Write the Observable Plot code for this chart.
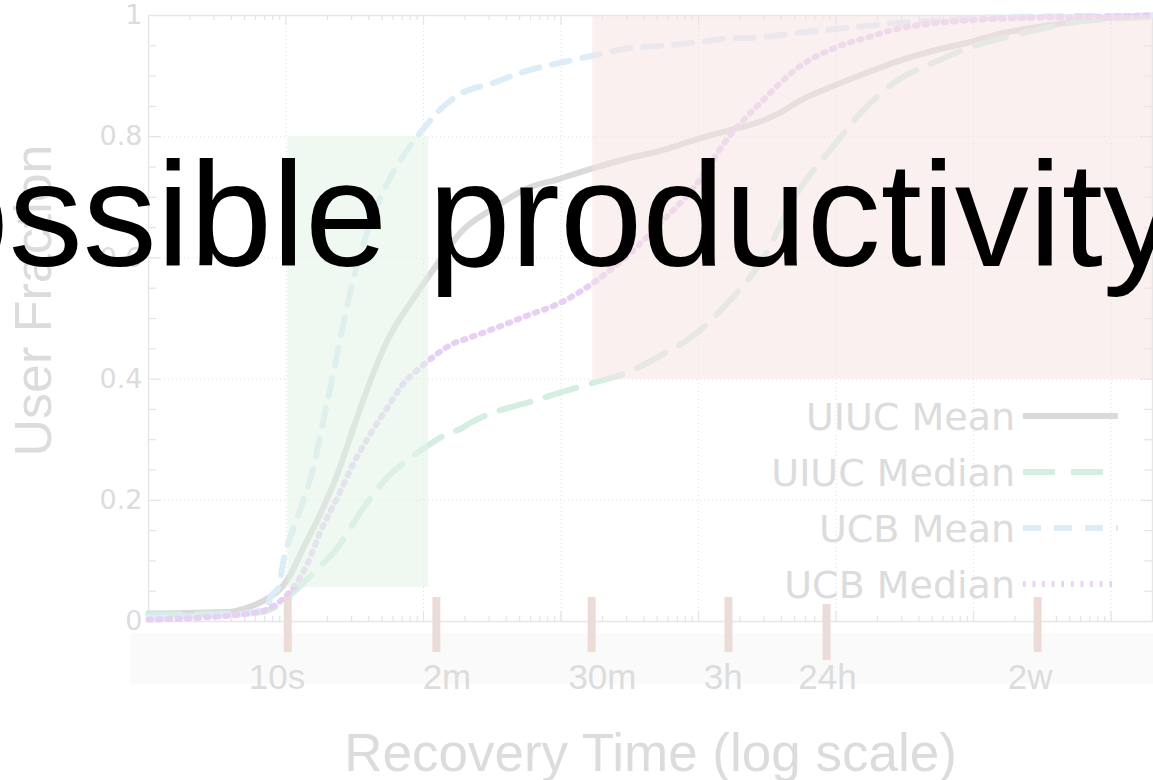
<!DOCTYPE html>
<html>
<head>
<meta charset="utf-8">
<script src="https://cdn.jsdelivr.net/npm/d3@7"></script>
<script src="https://cdn.jsdelivr.net/npm/@observablehq/plot@0.6"></script>
<style>
  html, body { margin: 0; padding: 0; background: #ffffff; }
  #chart svg { display: block; }
</style>
</head>
<body>
<div id="chart"></div>
<script>
// ---------- data ----------
const seriesNames = ["UIUC Mean", "UIUC Median", "UCB Mean", "UCB Median"];

// recovery time in seconds, user fraction (CDF)
const uiucMeanTime = [1, 4.02, 4.74, 6.31, 7.46, 9.27, 10.3, 13.4, 17.8, 23.7, 31.0, 41.2, 54.7, 84.5, 126, 186, 323, 570, 991, 1720, 3050, 5300, 9200, 16300, 28200, 39400, 55200, 95900, 169000, 294000, 512000, 904000, 1570000, 2730000, 4830000, 8390000, 20000000];
const uiucMeanFrac = [0.013, 0.016, 0.020, 0.030, 0.039, 0.056, 0.070, 0.122, 0.178, 0.244, 0.320, 0.398, 0.464, 0.533, 0.590, 0.642, 0.682, 0.715, 0.731, 0.748, 0.764, 0.777, 0.794, 0.810, 0.825, 0.840, 0.860, 0.884, 0.906, 0.926, 0.942, 0.955, 0.970, 0.980, 0.988, 0.995, 1.0];

const uiucMedianTime = [1, 6.31, 9.27, 10.3, 12.3, 15.8, 23.7, 36.6, 54.7, 95.1, 150, 186, 220, 323, 570, 991, 1720, 3050, 5300, 9200, 16300, 28200, 52500, 95900, 169000, 294000, 512000, 904000, 1570000, 2730000, 4830000, 8390000, 20000000];
const uiucMedianFrac = [0.011, 0.015, 0.031, 0.040, 0.056, 0.080, 0.122, 0.188, 0.238, 0.282, 0.310, 0.318, 0.328, 0.345, 0.361, 0.378, 0.394, 0.411, 0.439, 0.472, 0.526, 0.592, 0.708, 0.785, 0.851, 0.896, 0.922, 0.946, 0.962, 0.975, 0.987, 0.993, 0.998];

const ucbMeanTime = [1, 5.33, 7.46, 7.71, 8.81, 9.59, 11.4, 13.4, 15.8, 18.7, 21.8, 24.9, 26.2, 31.0, 41.2, 54.7, 71.6, 95.1, 126, 177, 323, 570, 991, 1720, 3050, 5300, 9200, 16300, 28200, 55200, 127000, 294000, 681000, 1570000, 20000000];
const ucbMeanFrac = [0.007, 0.013, 0.030, 0.040, 0.056, 0.101, 0.155, 0.200, 0.254, 0.332, 0.403, 0.469, 0.493, 0.566, 0.658, 0.724, 0.769, 0.807, 0.840, 0.868, 0.889, 0.909, 0.922, 0.934, 0.946, 0.950, 0.955, 0.962, 0.964, 0.972, 0.980, 0.988, 0.993, 0.997, 1.0];

const ucbMedianTime = [1, 5.33, 7.46, 9.27, 10.3, 12.3, 14.5, 17.8, 23.7, 31.0, 41.2, 54.7, 71.6, 95.1, 126, 165, 202, 323, 570, 991, 1720, 3050, 5300, 9200, 16300, 28200, 55200, 95900, 169000, 294000, 512000, 904000, 1570000, 8390000, 20000000];
const ucbMedianFrac = [0.003, 0.013, 0.021, 0.035, 0.045, 0.068, 0.098, 0.148, 0.205, 0.261, 0.310, 0.353, 0.393, 0.419, 0.442, 0.459, 0.466, 0.483, 0.505, 0.526, 0.559, 0.604, 0.658, 0.715, 0.797, 0.856, 0.917, 0.946, 0.964, 0.979, 0.987, 0.992, 0.995, 0.998, 1.0];

// x axis range (seconds) and y ticks
const xRange = [1, 20000000];
const yTickValues = [0, 0.2, 0.4, 0.6, 0.8, 1];

// shaded zones: start s, end s, low fraction, high fraction
const zoneStart = [10.3, 1700];
const zoneEnd = [109, 20000000];
const zoneLow = [0.056, 0.40];
const zoneHigh = [0.80, 1.0];

// annotation time marks
const timeLabels = ["10s", "2m", "30m", "3h", "24h", "2w"];
const timeMarkSeconds = [10.3, 124, 1670, 16500, 85300, 2920000];
const timeLabelSeconds = [8.6, 148, 2000, 15100, 86700, 2580000];

const xTitle = "Recovery Time (log scale)";
const yTitle = "User Fraction";
const overlayText = "ossible productivity";

// ---------- build tables ----------
const series = [
  {name: seriesNames[0], t: uiucMeanTime, f: uiucMeanFrac, color: "#dadada", dash: null},
  {name: seriesNames[1], t: uiucMedianTime, f: uiucMedianFrac, color: "#d5eee2", dash: "32,16"},
  {name: seriesNames[2], t: ucbMeanTime, f: ucbMeanFrac, color: "#ddedf8", dash: "18,13"},
  {name: seriesNames[3], t: ucbMedianTime, f: ucbMedianFrac, color: "#e8d0f5", dash: "2.6,7"}
];
// zones are laid over the curves half-transparent, as in the picture
const zones = zoneStart.map((s, i) => ({x1: s, x2: zoneEnd[i], y1: zoneLow[i], y2: zoneHigh[i], fill: i === 0 ? "#dff3e3" : "#f7e1e1"}));
const marksTable = timeLabels.map((l, i) => ({label: l, mark: timeMarkSeconds[i], pos: timeLabelSeconds[i]}));

const decades = d3.range(1, 8).map(k => 10 ** k);
const minors = [];
for (let k = 0; k < 8; k++) for (let m = 2; m < 10; m++) { const v = m * 10 ** k; if (v < xRange[1]) minors.push(v); }
const yMinor = d3.range(1, 20).map(i => i / 20).filter(v => Math.abs(v * 5 - Math.round(v * 5)) > 1e-6);
const yGrid = [0.2, 0.4, 0.6, 0.8];

const W = 1153, H = 780, mL = 148, mR = 1, mT = 15, mB = 159;
const fw = W - mL - mR, fh = H - mT - mB;
const gray = "#dcdcdc";
const fmt = d => String(+d.toFixed(1));

function legendMark(index, scales, values, dims) {
  const g = d3.create("svg:g");
  const right = dims.width - dims.marginRight;
  const bottom = dims.height - dims.marginBottom;
  series.forEach((s, i) => {
    const cy = bottom - 37 - (series.length - 1 - i) * 56;
    g.append("text")
      .attr("x", right - 137).attr("y", cy + 14)
      .attr("text-anchor", "end")
      .attr("font-family", "DejaVu Sans").attr("font-size", 38)
      .attr("fill", gray).text(s.name);
    const ln = g.append("line")
      .attr("x1", right - 129).attr("x2", right - 34)
      .attr("y1", cy).attr("y2", cy)
      .attr("stroke", s.color).attr("stroke-width", 6);
    if (s.dash) ln.attr("stroke-dasharray", s.dash);
  });
  return g.node();
}

const lineMarks = series.map(s => Plot.line(s.t.map((t, i) => ({t, f: s.f[i]})), {
  x: "t", y: "f", stroke: s.color, strokeWidth: 6,
  strokeDasharray: s.dash || undefined, strokeLinejoin: "round",
  curve: "monotone-x"
}));

const plot = Plot.plot({
  width: W, height: H,
  marginLeft: mL, marginRight: mR, marginTop: mT, marginBottom: mB,
  style: {background: "#ffffff", color: gray, overflow: "hidden"},
  x: {type: "log", domain: xRange, axis: null},
  y: {domain: [0, 1], axis: null},
  marks: [
    // label band under the axis
    Plot.frame({fill: "#fafafa", stroke: null, insetTop: 618, insetBottom: -62, insetLeft: -18, insetRight: -1}),
    // dotted grid
    Plot.ruleY(yGrid, {stroke: "#e2e2e2", strokeWidth: 1, strokeDasharray: "1,3"}),
    Plot.ruleX(decades, {stroke: "#e2e2e2", strokeWidth: 1, strokeDasharray: "1,3"}),
    // tick marks
    Plot.ruleY(yMinor, {stroke: "#e4e4e4", strokeWidth: 1.2, insetRight: fw - 8}),
    Plot.ruleY(yMinor, {stroke: "#e4e4e4", strokeWidth: 1.2, insetLeft: fw - 8}),
    Plot.ruleY(yGrid, {stroke: "#e4e4e4", strokeWidth: 1.2, insetRight: fw - 12}),
    Plot.ruleY(yGrid, {stroke: "#e4e4e4", strokeWidth: 1.2, insetLeft: fw - 12}),
    Plot.ruleX(decades, {stroke: "#e4e4e4", strokeWidth: 1.2, insetTop: fh - 10}),
    Plot.ruleX(decades, {stroke: "#e4e4e4", strokeWidth: 1.2, insetBottom: fh - 10}),
    Plot.ruleX(minors, {stroke: "#e4e4e4", strokeWidth: 1.2, insetTop: fh - 5}),
    Plot.ruleX(minors, {stroke: "#e4e4e4", strokeWidth: 1.2, insetBottom: fh - 5}),
    Plot.frame({stroke: "#e6e6e6", strokeWidth: 1.5}),
    // curves
    ...lineMarks,
    // shaded zones on top, half transparent
    Plot.rect(zones, {x1: "x1", x2: "x2", y1: "y1", y2: "y2", fill: "fill", fillOpacity: 0.5}),
    // annotation time marks
    Plot.ruleX(marksTable.filter(d => d.label !== "24h"), {x: "mark", stroke: "#ecdcd8", strokeWidth: 8, insetTop: 582, insetBottom: -31}),
    Plot.ruleX(marksTable.filter(d => d.label === "24h"), {x: "mark", stroke: "#ecdcd8", strokeWidth: 8, insetTop: 589, insetBottom: -39}),
    Plot.text(marksTable, {x: "pos", text: "label", frameAnchor: "bottom", lineAnchor: "bottom", dy: 67,
      fontSize: 35, fontFamily: "Liberation Sans, Arial, sans-serif", fill: gray}),
    // y tick labels
    Plot.text(yTickValues, {y: d => d, text: fmt, frameAnchor: "left", textAnchor: "end", dx: -6,
      fontSize: 27, fontFamily: "DejaVu Sans", fill: gray}),
    // axis titles
    Plot.text([yTitle], {text: d => d, frameAnchor: "left", rotate: -90, dx: -98, dy: -18, lineAnchor: "bottom",
      textAnchor: "middle", fontSize: 52, fontFamily: "Liberation Sans, Arial, sans-serif", fill: gray}),
    Plot.text([xTitle], {text: d => d, frameAnchor: "bottom", dy: 149, lineAnchor: "bottom",
      textAnchor: "middle", fontSize: 53, fontFamily: "Liberation Sans, Arial, sans-serif", fill: gray}),
    // legend
    legendMark,
    // overlay text
    Plot.text([overlayText], {text: d => d, frameAnchor: "top-left", dx: -222, dy: 250, lineAnchor: "bottom",
      textAnchor: "start", fontSize: 148, fontFamily: "Liberation Sans, Arial, sans-serif", fill: "#000000"})
  ]
});
document.getElementById("chart").appendChild(plot);
</script>
</body>
</html>
